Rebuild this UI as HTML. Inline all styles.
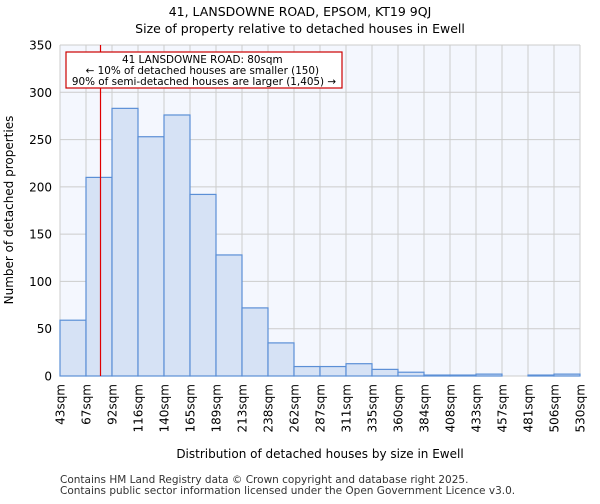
<!DOCTYPE html>
<html><head><meta charset="utf-8"><style>
body{margin:0;background:#fff;font-family:"DejaVu Sans","Liberation Sans",sans-serif}
</style></head><body>
<svg id="chart" width="600" height="500" xmlns="http://www.w3.org/2000/svg" font-family="DejaVu Sans, Liberation Sans, sans-serif">
<text x="300" y="16" text-anchor="middle" font-size="12.5">41, LANSDOWNE ROAD, EPSOM, KT19 9QJ</text>
<text x="300" y="33" text-anchor="middle" font-size="12.5">Size of property relative to detached houses in Ewell</text>
<rect x="60" y="45" width="520" height="331" fill="#f4f7fe"/>
<g id="grid"></g><g id="bars"></g><g id="axes"></g>
<line id="marker" y1="45" y2="376" stroke="#e00000" stroke-width="1.2"/>
<rect x="66" y="52" width="276" height="36" fill="#fff" stroke="#cc0000" stroke-width="1.2"/>
<text font-size="10.4" text-anchor="middle">
<tspan x="204" y="63">41 LANSDOWNE ROAD: 80sqm</tspan>
<tspan x="204" y="74">← 10% of detached houses are smaller (150)</tspan>
<tspan x="204" y="85">90% of semi-detached houses are larger (1,405) →</tspan></text>
<text transform="translate(13,210) rotate(-90)" text-anchor="middle" font-size="12">Number of detached properties</text>
<text x="320" y="458" text-anchor="middle" font-size="12">Distribution of detached houses by size in Ewell</text>
<text font-size="10.5" fill="#333"><tspan x="60" y="483">Contains HM Land Registry data © Crown copyright and database right 2025.</tspan><tspan x="60" y="494">Contains public sector information licensed under the Open Government Licence v3.0.</tspan></text>
</svg>
<script>
const categories=["43sqm","67sqm","92sqm","116sqm","140sqm","165sqm","189sqm","213sqm","238sqm","262sqm","287sqm","311sqm","335sqm","360sqm","384sqm","408sqm","433sqm","457sqm","481sqm","506sqm","530sqm"];
const values=[59,210,283,253,276,192,128,72,35,10,10,13,7,4,1,1,2,0,1,2];
const yTicks=[0,50,100,150,200,250,300,350];
const markerValue=80;
const binStart=43, binEnd=530;
const NS="http://www.w3.org/2000/svg";
const L=60,R=580,T=45,B=376,yMax=350;
const n=values.length;
const xb=i=>L+(R-L)*i/n;
const xv=v=>L+(R-L)*(v-binStart)/(binEnd-binStart);
const y=v=>B-(B-T)*v/yMax;
function mk(tag,attrs,parent){const e=document.createElementNS(NS,tag);for(const k in attrs)e.setAttribute(k,attrs[k]);parent.appendChild(e);return e;}
const grid=document.getElementById('grid'),bars=document.getElementById('bars'),axes=document.getElementById('axes');
yTicks.forEach(t=>{const g=mk('line',{x1:L,x2:R,y1:y(t),y2:y(t),stroke:'#cccccc','stroke-width':1},grid);

const tx=mk('text',{x:L-8,y:y(t)+4.5,'text-anchor':'end','font-size':12},axes);tx.textContent=t;
});
categories.forEach((c,i)=>{const g=mk('line',{x1:xb(i),x2:xb(i),y1:T,y2:B,stroke:'#cccccc','stroke-width':1},grid);

const tx=mk('text',{transform:`translate(${xb(i)+4.5},${B+8}) rotate(-90)`,'text-anchor':'end','font-size':12},axes);tx.textContent=c;
});
values.forEach((v,i)=>{const r=mk('rect',{x:xb(i),y:y(v),width:xb(i+1)-xb(i),height:B-y(v),fill:'#d6e2f5',stroke:'#5b8fd6','stroke-width':1.2},bars);
});
const m=document.getElementById('marker');m.setAttribute('x1',xv(markerValue)+1);m.setAttribute('x2',xv(markerValue)+1);
</script>
</body></html>
